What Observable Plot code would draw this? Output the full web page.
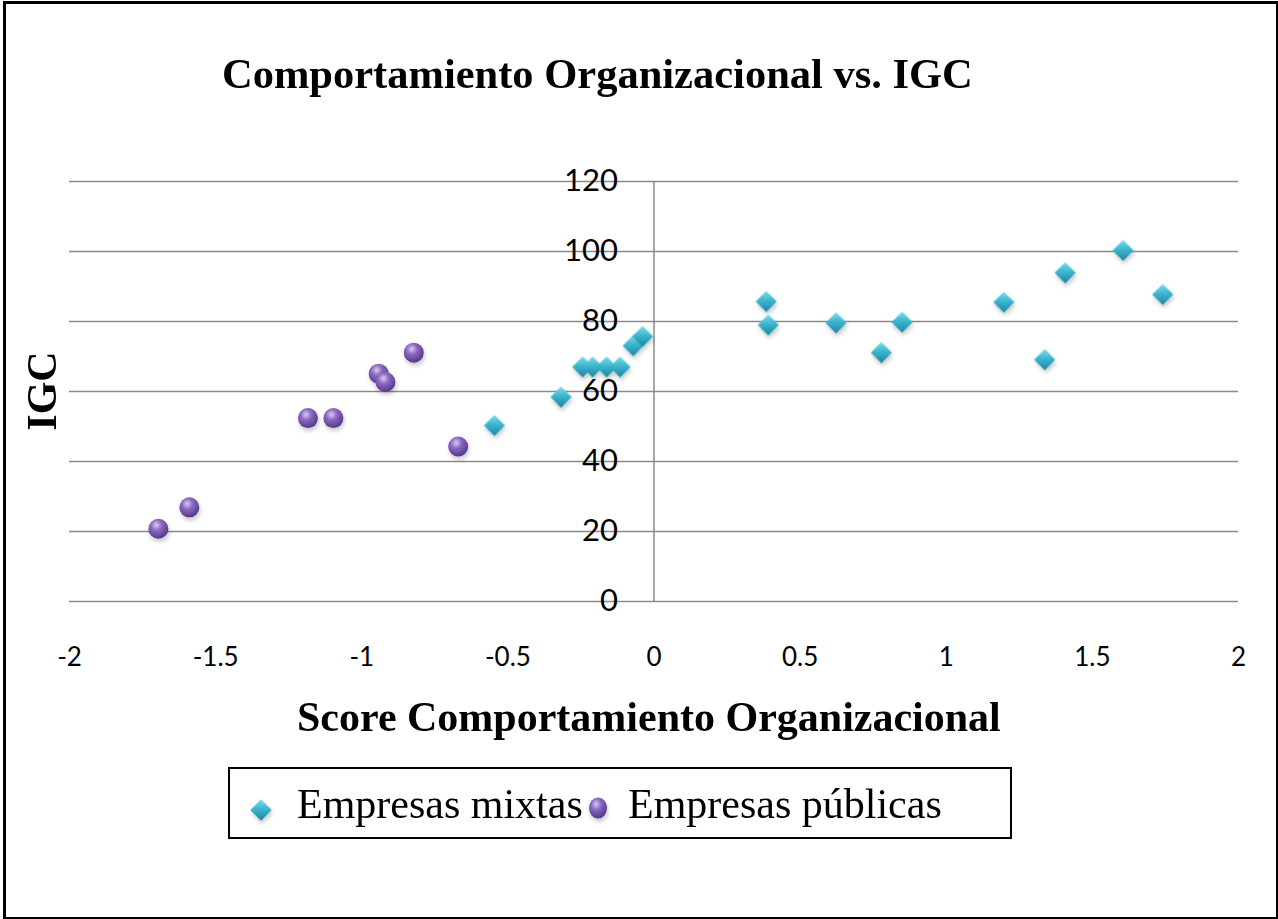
<!DOCTYPE html>
<html>
<head>
<meta charset="utf-8">
<script src="https://cdn.jsdelivr.net/npm/d3@7"></script>
<script src="https://cdn.jsdelivr.net/npm/@observablehq/plot@0.6"></script>
<style>
  html, body { margin: 0; padding: 0; background: #fff; }
  #wrap { position: relative; width: 1278px; height: 919px; overflow: hidden; background: #fff; }
  #frame { position: absolute; left: 3px; top: 1px; width: 1270px; height: 913px; border: 3px solid #000; }
  .serif { font-family: "Liberation Serif", "Times New Roman", serif; color: #000; line-height: 42px; font-size: 42px; white-space: nowrap; position: absolute; }
  #title { left: 222px; top: 53px; font-weight: bold; font-size: 42.5px; }
  #xlabel { left: 297px; top: 696px; font-weight: bold; }
  #ylabel { left: -58px; top: 370px; width: 200px; height: 42px; text-align: center; font-weight: bold; transform: rotate(-90deg); }
  #legend { position: absolute; left: 228px; top: 767px; width: 780px; height: 68px; border: 2px solid #000; }
  .legtext { font-family: "Liberation Serif", "Times New Roman", serif; font-size: 42px; line-height: 42px; position: absolute; white-space: nowrap; }
  #chart { position: absolute; left: 0; top: 0; }
</style>
</head>
<body>
<div id="wrap">
  <div id="chart"></div>
  <div id="frame"></div>
  <div id="title" class="serif">Comportamiento Organizacional vs. IGC</div>
  <div id="xlabel" class="serif">Score Comportamiento Organizacional</div>
  <div id="ylabel" class="serif">IGC</div>
  <div id="legend"></div>
</div>
<script>
// ---- data ----
const seriesNames = ["Empresas mixtas", "Empresas públicas"];
const xTicks = [-2, -1.5, -1, -0.5, 0, 0.5, 1, 1.5, 2];
const yTicks = [0, 20, 40, 60, 80, 100, 120];

const mixtasX = [-0.546, -0.318, -0.244, -0.210, -0.162, -0.116, -0.071, -0.039, 0.384, 0.391, 0.623, 0.778, 0.849, 1.197, 1.337, 1.407, 1.605, 1.741];
const mixtasY = [50.3, 58.4, 67.0, 67.0, 67.0, 67.0, 73.1, 75.7, 85.7, 79.0, 79.6, 71.1, 79.8, 85.5, 69.1, 93.9, 100.3, 87.7];

const publicasX = [-1.696, -1.590, -1.184, -1.097, -0.942, -0.919, -0.822, -0.670];
const publicasY = [20.8, 26.9, 52.4, 52.4, 65.1, 62.7, 71.1, 44.3];

const mixtas = mixtasX.map((x, i) => ({x, y: mixtasY[i]}));
const publicas = publicasX.map((x, i) => ({x, y: publicasY[i]}));

const svg = Plot.plot({
  width: 1278,
  height: 919,
  marginLeft: 69,
  marginRight: 40,
  marginTop: 181,
  marginBottom: 318,
  style: {background: "transparent", color: "#000", fontFamily: "Lato, 'Open Sans', sans-serif", overflow: "visible"},
  x: {domain: [-2, 2]},
  y: {domain: [0, 120], axis: null},
  marks: [
    Plot.ruleY(yTicks, {stroke: "#8a8a8a", strokeWidth: 1.5}),
    Plot.ruleX([0], {y1: 0, y2: 120, stroke: "#8a8a8a", strokeWidth: 1.5}),
    Plot.axisX(xTicks, {tickSize: 0, tickPadding: 46, fontSize: 26, tickFormat: d => String(d), label: null, fill: "#000"}),
    Plot.text(yTicks, {x: () => 0, y: d => d, text: d => String(d), textAnchor: "end", dx: -36, fontSize: 31, fill: "#000"}),
    Plot.dot(publicas, {x: "x", y: "y", r: 10, fill: "url(#gradSphere)", stroke: "none"}),
    Plot.dot(mixtas, {x: "x", y: "y", symbol: "diamond2", r: 9.5, fill: "url(#gradDiamond)", stroke: "none"})
  ]
});

function addDefs(target) {
  const defs = d3.select(target).insert("defs", ":first-child");
  const rg = defs.append("radialGradient").attr("id", "gradSphere")
    .attr("cx", "40%").attr("cy", "32%").attr("r", "68%");
  rg.append("stop").attr("offset", "0%").attr("stop-color", "#d9ccf2");
  rg.append("stop").attr("offset", "40%").attr("stop-color", "#8b69c2");
  rg.append("stop").attr("offset", "100%").attr("stop-color", "#55388a");
  const lg = defs.append("linearGradient").attr("id", "gradDiamond")
    .attr("x1", "0").attr("y1", "0").attr("x2", "0").attr("y2", "1");
  lg.append("stop").attr("offset", "0%").attr("stop-color", "#7fdcec");
  lg.append("stop").attr("offset", "45%").attr("stop-color", "#3cb6cf");
  lg.append("stop").attr("offset", "100%").attr("stop-color", "#1b84a2");
  const f = defs.append("filter").attr("id", "shadow").attr("x", "-50%").attr("y", "-50%").attr("width", "200%").attr("height", "200%");
  f.append("feDropShadow").attr("dx", 1).attr("dy", 3).attr("stdDeviation", 2).attr("flood-color", "#000").attr("flood-opacity", 0.22);
}
addDefs(svg);
d3.select(svg).selectAll("g[aria-label='dot']").attr("filter", "url(#shadow)");
document.getElementById("chart").appendChild(svg);

// ---- legend ----
const legend = document.getElementById("legend");
const lsvg = d3.create("svg").attr("width", 780).attr("height", 68)
  .style("position", "absolute").style("left", "0").style("top", "0");
addDefs(lsvg.node());
const legItems = [
  {name: seriesNames[0], mx: 31, tx: 67, symbol: "diamond"},
  {name: seriesNames[1], mx: 368, tx: 398, symbol: "sphere"}
];
legItems.forEach(it => {
  if (it.symbol === "diamond") {
    lsvg.append("path").attr("d", d3.symbol(d3.symbolDiamond2, 290)())
      .attr("transform", `translate(${it.mx},41)`).attr("fill", "url(#gradDiamond)").attr("filter", "url(#shadow)");
  } else {
    lsvg.append("ellipse").attr("cx", it.mx).attr("cy", 39).attr("rx", 9).attr("ry", 10.5)
      .attr("fill", "url(#gradSphere)").attr("filter", "url(#shadow)");
  }
  const t = document.createElement("div");
  t.className = "legtext";
  t.textContent = it.name;
  t.style.left = it.tx + "px";
  t.style.top = (818 - 35 - 769) + "px";
  legend.appendChild(t);
});
legend.appendChild(lsvg.node());
</script>
</body>
</html>
